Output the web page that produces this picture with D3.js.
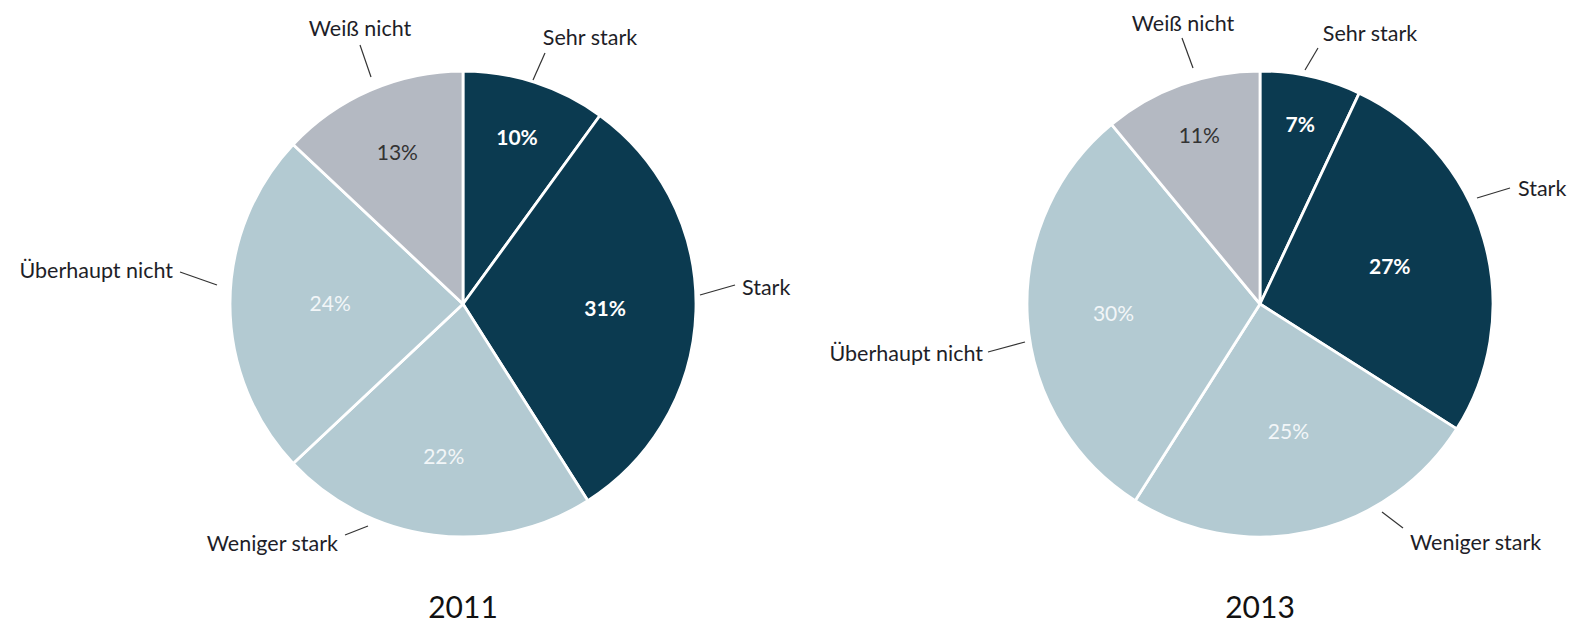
<!DOCTYPE html>
<html><head><meta charset="utf-8">
<script src="https://cdn.jsdelivr.net/npm/d3@7"></script>
<style>
html,body{margin:0;padding:0;background:#fff;}
svg text{font-family:Lato,"Open Sans",sans-serif;}
</style></head>
<body><svg id="c" width="1573" height="623"></svg>
<script>
// ---- data ----
const categories = ["Sehr stark", "Stark", "Weniger stark", "Überhaupt nicht", "Weiß nicht"];
const years = ["2011", "2013"];
const values2011 = [10, 31, 22, 24, 13];
const values2013 = [7, 27, 25, 30, 11];

// ---- layout / style (not data) ----
const colors = ["#0b3a50", "#0b3a50", "#b3cad2", "#b3cad2", "#b4b9c2"];
const pctColors = ["#ffffff", "#ffffff", "#f2f6f8", "#f2f6f8", "#333333"];
const pctWeights = [700, 700, 400, 400, 400];
const R = 233;
const charts = [
  { year: years[0], values: values2011, cx: 463, cy: 304,
    pctR: [0.75, 0.61, 0.66, 0.57, 0.71],
    labels: [
      {t:[127,-267], a:"middle", l:[[70,-224],[82,-251]]},
      {t:[279,-17], a:"start", l:[[237,-9],[272,-19]]},
      {t:[-125,239], a:"end", l:[[-95,222],[-118,231]]},
      {t:[-290,-34], a:"end", l:[[-246,-19],[-283,-32]]},
      {t:[-103,-276], a:"middle", l:[[-92,-227],[-103,-259]]}
    ]},
  { year: years[1], values: values2013, cx: 1260, cy: 304,
    pctR: [0.79, 0.58, 0.56, 0.63, 0.77],
    labels: [
      {t:[110,-271], a:"middle", l:[[45,-234],[58,-256]]},
      {t:[258,-116], a:"start", l:[[217,-106],[250,-116]]},
      {t:[150,238], a:"start", l:[[122,208],[143,224]]},
      {t:[-277,49], a:"end", l:[[-235,38],[-272,48]]},
      {t:[-77,-281], a:"middle", l:[[-67,-236],[-78,-266]]}
    ]}
];

const svg = d3.select("#c");
const pie = d3.pie().sort(null).value(d => d);
const arc = d3.arc().innerRadius(0).outerRadius(R);

charts.forEach(ch => {
  const g = svg.append("g").attr("transform", `translate(${ch.cx},${ch.cy})`);
  const arcs = pie(ch.values);
  g.selectAll("path.slice").data(arcs).join("path")
    .attr("class", "slice")
    .attr("d", arc)
    .attr("fill", (d, i) => colors[i])
    .attr("stroke", "#fff")
    .attr("stroke-width", 2.8)
    .attr("stroke-linejoin", "round");

  g.selectAll("text.pct").data(arcs).join("text")
    .attr("class", "pct")
    .attr("transform", (d, i) => {
      const a = (d.startAngle + d.endAngle) / 2;
      const r = R * ch.pctR[i];
      return `translate(${r * Math.sin(a)},${-r * Math.cos(a)})`;
    })
    .attr("text-anchor", "middle")
    .attr("dy", "0.35em")
    .attr("font-size", 21)
    .attr("font-weight", (d, i) => pctWeights[i])
    .attr("fill", (d, i) => pctColors[i])
    .text(d => d.data + "%");

  ch.labels.forEach((lb, i) => {
    g.append("path")
      .attr("d", d3.line()(lb.l))
      .attr("stroke", "#333")
      .attr("stroke-width", 1.2)
      .attr("fill", "none");
    g.append("text")
      .attr("x", lb.t[0]).attr("y", lb.t[1])
      .attr("dy", "0.35em")
      .attr("text-anchor", lb.a)
      .attr("font-size", 21.5)
      .attr("fill", "#1e1e28")
      .text(categories[i]);
  });

  svg.append("text")
    .attr("x", ch.cx).attr("y", 618)
    .attr("text-anchor", "middle")
    .attr("font-size", 30)
    .attr("fill", "#111")
    .text(ch.year);
});
</script></body></html>
